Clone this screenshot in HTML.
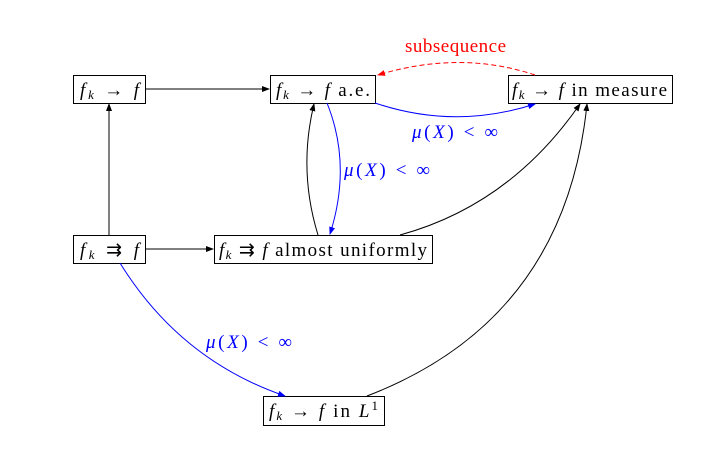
<!DOCTYPE html>
<html><head><meta charset="utf-8"><style>
body{margin:0;background:#fff;}
svg{display:block;font-family:"Liberation Serif",serif;}
.m{font-style:italic;}
</style></head><body>
<svg width="702" height="476" viewBox="0 0 702 476">
<defs>
<marker id="ak" markerWidth="8" markerHeight="6" refX="7" refY="3" orient="auto" markerUnits="userSpaceOnUse"><path d="M0,0 L8,3 L0,6 z" fill="#000"/></marker>
<marker id="ab" markerWidth="8" markerHeight="6" refX="7" refY="3" orient="auto" markerUnits="userSpaceOnUse"><path d="M0,0 L8,3 L0,6 z" fill="#00f"/></marker>
<marker id="ar" markerWidth="8" markerHeight="6" refX="7" refY="3" orient="auto" markerUnits="userSpaceOnUse"><path d="M0,0 L8,3 L0,6 z" fill="#f00"/></marker>
</defs>
<g fill="#fff" stroke="#000" stroke-width="1">
<rect x="73.5" y="75.5" width="72" height="28"/>
<rect x="270.5" y="75.5" width="105" height="28"/>
<rect x="508.5" y="75.5" width="164" height="28"/>
<rect x="73.5" y="235.5" width="72" height="28"/>
<rect x="214.5" y="235.5" width="218" height="28"/>
<rect x="263.5" y="396.5" width="121" height="29"/>
</g>
<g font-size="19" fill="#000">
<text x="80" y="96" textLength="59" lengthAdjust="spacing"><tspan class="m">f</tspan><tspan class="m" font-size="13" dy="3">k</tspan><tspan dy="-3"> → </tspan><tspan class="m">f</tspan></text>
<text x="276" y="96" textLength="94" lengthAdjust="spacing"><tspan class="m">f</tspan><tspan class="m" font-size="13" dy="3">k</tspan><tspan dy="-3"> → </tspan><tspan class="m">f</tspan> a.e.</text>
<text x="512" y="96" textLength="155" lengthAdjust="spacing"><tspan class="m">f</tspan><tspan class="m" font-size="13" dy="3">k</tspan><tspan dy="-3"> → </tspan><tspan class="m">f</tspan> in measure</text>
<text x="80" y="256" textLength="59" lengthAdjust="spacing"><tspan class="m">f</tspan><tspan class="m" font-size="13" dy="3">k</tspan><tspan dy="-3"> ⇉ </tspan><tspan class="m">f</tspan></text>
<text x="219" y="256" textLength="208" lengthAdjust="spacing"><tspan class="m">f</tspan><tspan class="m" font-size="13" dy="3">k</tspan><tspan dy="-3"> ⇉ </tspan><tspan class="m">f</tspan> almost uniformly</text>
<text x="269" y="417" textLength="109" lengthAdjust="spacing"><tspan class="m">f</tspan><tspan class="m" font-size="13" dy="3">k</tspan><tspan dy="-3"> → </tspan><tspan class="m">f</tspan> in <tspan class="m">L</tspan><tspan font-size="13" dy="-7">1</tspan></text>
</g>
<g fill="none" stroke-width="1">
<path d="M146,89 L269,89" stroke="#000" marker-end="url(#ak)"/>
<path d="M109,235 L109,104" stroke="#000" marker-end="url(#ak)"/>
<path d="M146,249 L213,249" stroke="#000" marker-end="url(#ak)"/>
<path d="M375,103 Q455,130 535,104" stroke="#00f" marker-end="url(#ab)"/>
<path d="M535,75 Q460,50 378,75" stroke="#f00" stroke-dasharray="5,3" marker-end="url(#ar)"/>
<path d="M327,103 Q352,165 330,234" stroke="#00f" marker-end="url(#ab)"/>
<path d="M318,235 Q298,170 314,104" stroke="#000" marker-end="url(#ak)"/>
<path d="M400,235 Q510,205 580,104" stroke="#000" marker-end="url(#ak)"/>
<path d="M120,263 Q180,360 285,396" stroke="#00f" marker-end="url(#ab)"/>
<path d="M367,396 Q565,320 587,104" stroke="#000" marker-end="url(#ak)"/>
</g>
<g font-size="19">
<text x="405" y="52" textLength="101" lengthAdjust="spacing" fill="#f00">subsequence</text>
<text x="412" y="138" textLength="86" lengthAdjust="spacing" fill="#00f"><tspan class="m">μ</tspan>(<tspan class="m">X</tspan>) &lt; ∞</text>
<text x="344" y="176" textLength="86" lengthAdjust="spacing" fill="#00f"><tspan class="m">μ</tspan>(<tspan class="m">X</tspan>) &lt; ∞</text>
<text x="206" y="348" textLength="86" lengthAdjust="spacing" fill="#00f"><tspan class="m">μ</tspan>(<tspan class="m">X</tspan>) &lt; ∞</text>
</g>
</svg>
</body></html>
